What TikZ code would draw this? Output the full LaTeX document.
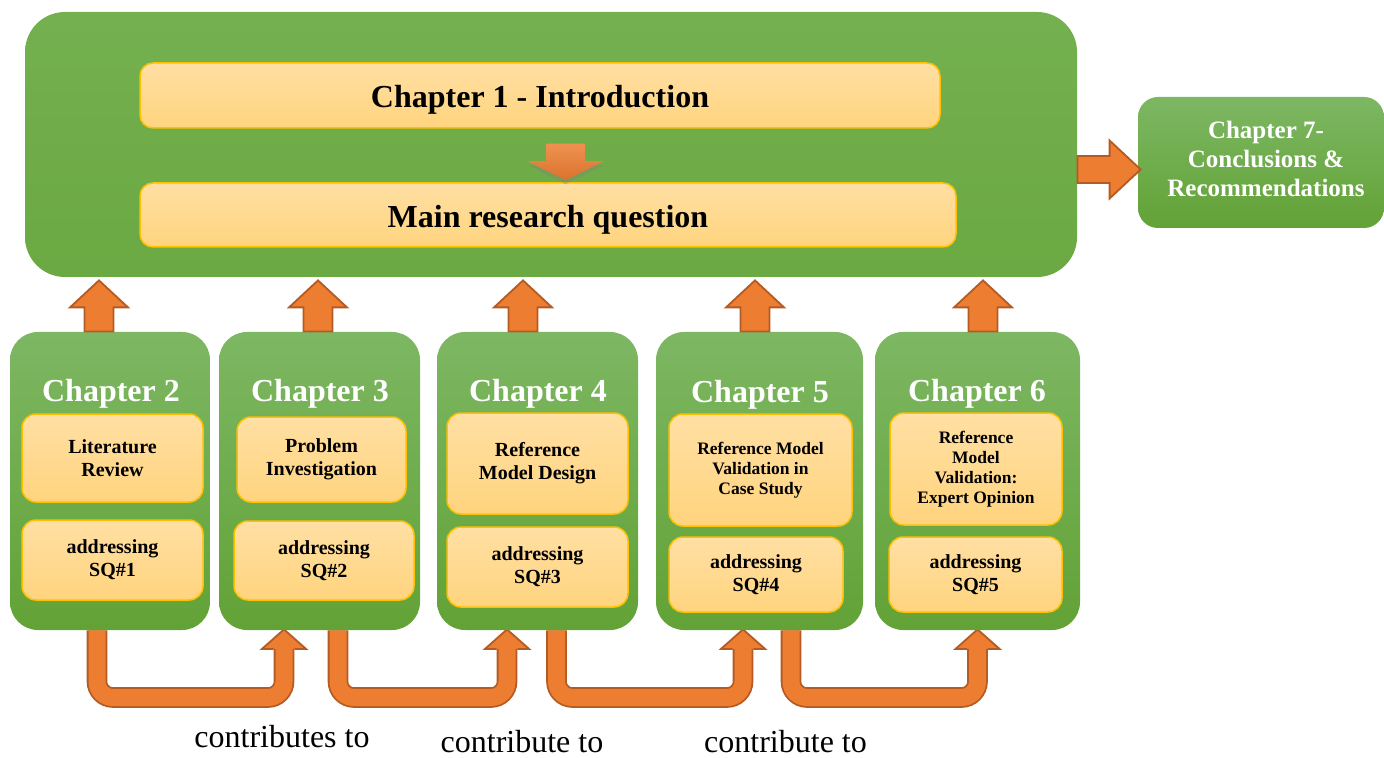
\documentclass[tikz,border=0pt]{standalone}
\usepackage{fontspec}
\setmainfont{Liberation Serif}
\usetikzlibrary{calc,shadows,backgrounds}

\definecolor{bigTop}{HTML}{74B04F}
\definecolor{bigBot}{HTML}{6BA943}
\definecolor{chTop}{HTML}{7DB763}
\definecolor{chBot}{HTML}{62A236}
\definecolor{goldTop}{HTML}{FFDFA3}
\definecolor{goldBot}{HTML}{FFD47E}
\definecolor{goldLine}{HTML}{FFC000}
\definecolor{arrowFill}{HTML}{ED7D31}
\definecolor{arrowLine}{HTML}{B35B22}

% vertical block arrow pointing up: base, tip, shaft half-width, head half-width, head length, style
\newcommand\blockup[6]{%
  \path[#6] let \p1=(#1), \p2=(#2) in
    (\x2-#3,\y1) -- (\x2-#3,\y2-#5) -- (\x2-#4,\y2-#5) -- (\x2,\y2)
    -- (\x2+#4,\y2-#5) -- (\x2+#3,\y2-#5) -- (\x2+#3,\y1) -- cycle;}
% vertical block arrow pointing down
\newcommand\blockdown[6]{%
  \path[#6] let \p1=(#1), \p2=(#2) in
    (\x2-#3,\y1) -- (\x2-#3,\y2+#5) -- (\x2-#4,\y2+#5) -- (\x2,\y2)
    -- (\x2+#4,\y2+#5) -- (\x2+#3,\y2+#5) -- (\x2+#3,\y1) -- cycle;}
% horizontal block arrow pointing right
\newcommand\blockright[6]{%
  \path[#6] let \p1=(#1), \p2=(#2) in
    (\x1,\y2-#3) -- (\x2-#5,\y2-#3) -- (\x2-#5,\y2-#4) -- (\x2,\y2)
    -- (\x2-#5,\y2+#4) -- (\x2-#5,\y2+#3) -- (\x1,\y2+#3) -- cycle;}
% U-shaped connector running under the chapter boxes: source node, source x, target node, target x
\newcommand\ucon[4]{%
  \coordinate (utip) at ($(#4,0 |- #3.south)+(0,-1)$);
  \draw[uband] (#2,0 |- #1.south) -- (#2,697.5) -- (#4,697.5) -- ($(utip)+(0,19.5)$);
  \fill[arrowFill] let \p1=(utip) in
    (\x1-11pt,\y1-9.75pt) -- (\x1,\y1) -- (\x1+11pt,\y1-9.75pt) -- cycle;
  \draw[arrowLine, line width=0.9pt, line join=miter] let \p1=(utip) in
    (\x1-5.15pt,\y1-9.75pt) -- (\x1-11pt,\y1-9.75pt) -- (\x1,\y1)
    -- (\x1+11pt,\y1-9.75pt) -- (\x1+5.15pt,\y1-9.75pt);}

\begin{document}
\begin{tikzpicture}[x=0.5pt,y=-0.5pt,
  bigbox/.style={rounded corners=20pt, top color=bigTop, bottom color=bigBot, draw=none, inner sep=0pt},
  chbox/.style={rounded corners=14pt, top color=chTop, bottom color=chBot, draw=none, inner sep=0pt},
  goldbox/.style={rounded corners=7pt, top color=goldTop, bottom color=goldBot, draw=goldLine,
    line width=0.75pt, align=center, inner sep=2pt},
  midtext/.style={font=\bfseries\fontsize{10}{11.5}\selectfont},
  smalltext/.style={font=\bfseries\fontsize{8.75}{10}\selectfont},
  headtext/.style={font=\bfseries\fontsize{16}{19}\selectfont, text height=12.2pt, text depth=0pt},
  chtitle/.style={text=white, font=\bfseries\fontsize{16}{19}\selectfont, anchor=base},
  blockarrow/.style={fill=arrowFill, draw=arrowLine, line width=0.9pt, line join=miter},
  softarrow/.style={top color=arrowFill!85!white, bottom color=arrowFill!92!black, draw=none,
    drop shadow={opacity=0.35, shadow xshift=0pt, shadow yshift=-2pt}},
  uband/.style={draw=arrowLine, double=arrowFill, double distance=8.5pt, line width=0.9pt,
    rounded corners=8pt},
  lbl/.style={font=\fontsize{16}{19}\selectfont, anchor=base},
]
\useasboundingbox (0,0) rectangle (1384,758);

% Chapter 1 frame
\node[bigbox, minimum width=526pt, minimum height=132.5pt] (big) at (551,144.5) {};
\node[goldbox, rounded corners=6.5pt, headtext, minimum width=400pt, minimum height=32.5pt]
  (ch1) at (540,95.5) {Chapter 1 - Introduction};
\node[goldbox, rounded corners=6.5pt, headtext, minimum width=408pt, minimum height=32pt]
  (rq) at (548,215) {Main research question};
\blockdown{$(565.5,0 |- ch1.south)+(0,15)$}{$(565.5,0 |- rq.north)+(0,-2)$}{9.75pt}{19pt}{9.5pt}{softarrow}

% Chapter 7
\node[chbox, rounded corners=10pt, minimum width=123pt, minimum height=65.5pt,
  text=white, align=center, font=\bfseries\fontsize{12.5}{14.5}\selectfont]
  (ch7) at (1261,162.5) {};
\node[text=white, align=center, font=\bfseries\fontsize{12.5}{14.5}\selectfont]
  (ch7t) at (1266,158.5) {Chapter 7-\\Conclusions \&\\Recommendations};
\blockright{big.east |- 0,169.5}{$(ch7.west |- 0,169.5)+(3,0)$}{6.75pt}{14.5pt}{15.5pt}{blockarrow}

% chapter frames
\node[chbox, minimum width=100pt,   minimum height=149pt] (ch2) at (110,481) {};
\node[chbox, minimum width=100.5pt, minimum height=149pt] (ch3) at (319.5,481) {};
\node[chbox, minimum width=100.5pt, minimum height=149pt] (ch4) at (537.5,481) {};
\node[chbox, minimum width=103.5pt, minimum height=149pt] (ch5) at (759.5,481) {};
\node[chbox, minimum width=102.5pt, minimum height=149pt] (ch6) at (977.5,481) {};

% "contributes to" connectors, running behind the chapter frames
\begin{scope}[on background layer]
\ucon{ch2}{97}{ch3}{284}
\ucon{ch3}{338}{ch4}{507}
\ucon{ch4}{556.5}{ch5}{743}
\ucon{ch5}{791}{ch6}{977.5}
\end{scope}

% chapter titles
\node[chtitle] (t2) at (111,401) {Chapter 2};
\node[chtitle] (t3) at (320,401) {Chapter 3};
\node[chtitle] (t4) at (538,401) {Chapter 4};
\node[chtitle] (t5) at (760,402) {Chapter 5};
\node[chtitle] (t6) at (977,401) {Chapter 6};

% chapter contents
\node[goldbox, midtext, minimum width=90.5pt, minimum height=44pt] (ch2a) at (112.5,458) {Literature\\Review};
\node[goldbox, midtext, minimum width=90.5pt, minimum height=40pt] (ch2b) at (112.5,560) {addressing\\SQ\#1};
\node[goldbox, midtext, minimum width=84.5pt, minimum height=42.5pt] (ch3a) at (321.5,459.5) {Problem\\Investigation};
\node[goldbox, midtext, minimum width=90pt, minimum height=39.5pt] (ch3b) at (324,560.5) {addressing\\SQ\#2};
\node[goldbox, midtext, minimum width=90.5pt, minimum height=50.5pt] (ch4a) at (537.5,463.5) {Reference\\Model Design};
\node[goldbox, midtext, minimum width=90.5pt, minimum height=40pt] (ch4b) at (537.5,567) {addressing\\SQ\#3};
\node[goldbox, smalltext, minimum width=91.5pt, minimum height=56pt] (ch5a) at (760.5,470) {Reference Model\\Validation in\\Case Study};
\node[goldbox, midtext, minimum width=87pt, minimum height=37.5pt] (ch5b) at (756,574.5) {addressing\\SQ\#4};
\node[goldbox, smalltext, minimum width=86pt, minimum height=56pt] (ch6a) at (976,469) {Reference\\Model\\Validation:\\Expert Opinion};
\node[goldbox, midtext, minimum width=86.5pt, minimum height=37.5pt] (ch6b) at (975.5,574.5) {addressing\\SQ\#5};

% chapters feeding the main research question
\blockup{99,0 |- ch2.north}{$(99,0 |- big.south)+(0,3)$}{7.25pt}{14.5pt}{13.5pt}{blockarrow}
\blockup{318,0 |- ch3.north}{$(318,0 |- big.south)+(0,3)$}{7.25pt}{14.5pt}{13.5pt}{blockarrow}
\blockup{523,0 |- ch4.north}{$(523,0 |- big.south)+(0,3)$}{7.25pt}{14.5pt}{13.5pt}{blockarrow}
\blockup{755,0 |- ch5.north}{$(755,0 |- big.south)+(0,3)$}{7.25pt}{14.5pt}{13.5pt}{blockarrow}
\blockup{983,0 |- ch6.north}{$(983,0 |- big.south)+(0,3)$}{7.25pt}{14.5pt}{13.5pt}{blockarrow}

% connector labels
\node[lbl] (l1) at (282,747) {contributes to};
\node[lbl] (l2) at (522,752) {contribute to};
\node[lbl] (l3) at (785.5,752) {contribute to};
\end{tikzpicture}
\end{document}
